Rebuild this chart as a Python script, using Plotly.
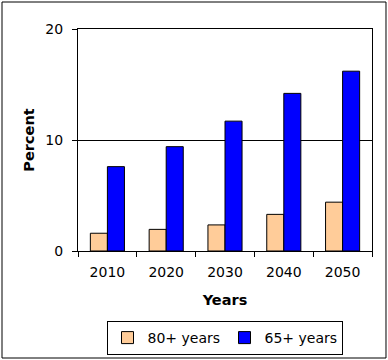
import plotly.graph_objects as go

years = ["2010", "2020", "2030", "2040", "2050"]
pct_80 = [1.6, 1.95, 2.35, 3.3, 4.4]
pct_65 = [7.6, 9.4, 11.7, 14.2, 16.2]
y_ticks = [0, 10, 20]

FONT = "DejaVu Sans, Verdana, sans-serif"

fig = go.Figure()
fig.add_trace(go.Bar(x=years, y=pct_80, name="80+ years",
                     marker=dict(color="#FFCC99", line=dict(color="black", width=1))))
fig.add_trace(go.Bar(x=years, y=pct_65, name="65+ years",
                     marker=dict(color="#0000FF", line=dict(color="black", width=1))))

fig.update_layout(
    width=388, height=360,
    margin=dict(l=78, r=16, t=29, b=109, autoexpand=False),
    paper_bgcolor="white", plot_bgcolor="white",
    font=dict(family=FONT, size=14, color="black"),
    barmode="group", bargap=0.42, bargroupgap=0,
    showlegend=True,
    legend=dict(orientation="h", x=(128 + 321) / 2 / 388, xref="container", xanchor="center",
                y=(360 - 321) / 360, yref="container", yanchor="top",
                bordercolor="black", borderwidth=1, font=dict(size=14),
                itemwidth=30, tracegroupgap=0, entrywidth=72, entrywidthmode="pixels"),
    xaxis=dict(title=dict(text="<b>Years</b>", font=dict(size=14.5), standoff=16),
               automargin=False, ticklabelstandoff=8,
               showline=True, linecolor="black", linewidth=1, mirror=True,
               ticks="outside", ticklen=5, tickcolor="black", tickson="boundaries",
               showgrid=False),
    yaxis=dict(title=dict(text="<b>Percent</b>", font=dict(size=14.5), standoff=7),
               automargin=False, ticklabelstandoff=6,
               range=[0, 20], tickvals=y_ticks,
               showline=True, linecolor="black", linewidth=1, mirror=True,
               ticks="outside", ticklen=5, tickcolor="black",
               showgrid=True, gridcolor="black", gridwidth=1, zeroline=False),
)

fig.add_shape(type="rect", xref="paper", yref="paper",
              x0=-0.2585, x1=1.0476, y0=-0.482, y1=1.1216,
              line=dict(color="black", width=1))

fig.write_html("out.html", config={"displayModeBar": False},
               post_script="document.body.style.margin='0';document.body.style.overflow='hidden';")
